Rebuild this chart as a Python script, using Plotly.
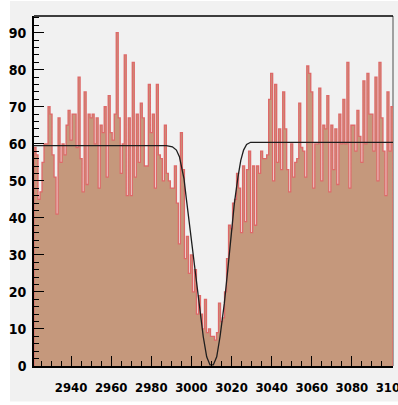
import plotly.graph_objects as go

# Histogram bins: 1-unit bins, centres 2922 ... 3100
bin_start = 2922
counts = [
    59, 57, 45, 47, 55, 60, 60, 70, 68, 57, 51, 41, 67, 55, 60, 57, 65, 69, 61, 68, 68, 59, 78, 56, 47,
    74, 49, 68, 67, 68, 60, 67, 48, 65, 63, 70, 51, 73, 63, 61, 68, 90, 67, 52, 60, 84, 46, 67, 46, 82,
    51, 68, 55, 71, 67, 54, 54, 76, 63, 68, 48, 76, 57, 56, 50, 65, 52, 50, 48, 48, 54, 44, 33, 63, 53,
    29, 35, 25, 30, 20, 26, 14, 19, 14, 10, 18, 9, 10, 8, 8, 7, 9, 17, 12, 13, 20, 29, 38, 37, 44,
    45, 52, 48, 36, 54, 39, 53, 58, 36, 54, 38, 54, 52, 58, 56, 56, 57, 72, 79, 50, 76, 55, 64, 53, 74,
    64, 53, 47, 60, 51, 55, 56, 71, 59, 58, 51, 81, 79, 74, 48, 60, 60, 75, 50, 65, 64, 73, 47, 65, 53,
    64, 49, 68, 60, 72, 60, 82, 48, 65, 65, 58, 69, 62, 55, 77, 60, 79, 68, 68, 58, 78, 50, 82, 67, 58,
    46, 74, 58, 70,
]
bin_centres = [bin_start + i for i in range(len(counts))]

# Fit curve
fit_x = [2921.5, 2987.5, 2990.5, 2992.5, 2994.0, 2995.2, 2996.3, 2997.5, 2999.75, 3001.75,
         3003.75, 3005.9, 3007.6, 3009.25, 3010.9, 3012.6, 3014.25, 3016.4, 3018.1, 3019.75,
         3021.4, 3023.2, 3024.6, 3026.0, 3027.5, 3029.5, 3100.5]
fit_y = [59.5, 59.5, 59.2, 58.3, 56.5, 53.8, 50.5, 45.0, 34.9, 25.9,
         16.9, 7.9, 2.5, 0.3, 0.3, 2.5, 7.9, 16.9, 25.9, 34.9,
         43.9, 51.0, 55.5, 58.3, 59.8, 60.4, 60.4]

x_ticks = [2940, 2960, 2980, 3000, 3020, 3040, 3060, 3080, 3100]
y_ticks = [0, 10, 20, 30, 40, 50, 60, 70, 80, 90]

FILL = "rgb(197,152,124)"
EDGE = "rgb(222,105,105)"
BG = "rgb(241,241,241)"

# step outline from bin edges
edges = [c - 0.5 for c in bin_centres] + [bin_centres[-1] + 0.5]
step_x = [edges[0]] + edges
step_y = [0] + counts + [0]

fig = go.Figure()
fig.add_trace(go.Bar(x=bin_centres, y=counts, width=1.0,
                     marker=dict(color=FILL, line=dict(width=0)), hoverinfo="skip"))
fig.add_trace(go.Scatter(x=step_x, y=step_y, mode="lines", line_shape="hv",
                         line=dict(color=EDGE, width=1.3), hoverinfo="skip"))
fig.add_trace(go.Scatter(x=fit_x, y=fit_y, mode="lines",
                         line=dict(color="rgb(30,30,30)", width=1.3), hoverinfo="skip"))

L, R, T, B = 34, 5, 16, 39
W, H = 398, 405
pw, ph = W - L - R, H - T - B

# grey canvas region (with white rim on left and bottom)
fig.add_shape(type="rect", xref="paper", yref="paper",
              x0=(10 - L) / pw, x1=(W - L) / pw + 0.02,
              y0=-(401.5 - (H - B)) / ph, y1=1 + (T - 1) / ph,
              fillcolor=BG, line=dict(width=0), layer="below")
# frame top and right
fig.add_shape(type="line", xref="paper", yref="paper", x0=0, x1=1, y0=1, y1=1,
              line=dict(color="black", width=1.6))
fig.add_shape(type="line", xref="paper", yref="paper", x0=1, x1=1, y0=0, y1=1,
              line=dict(color="rgb(140,140,140)", width=1.6), layer="below")

tickfont_x = dict(family="Liberation Sans Narrow, DejaVu Sans Condensed, Arial", size=13,
                  color="black", weight="bold")
tickfont_y = dict(family="Liberation Sans Narrow, DejaVu Sans Condensed, Arial", size=14,
                  color="black", weight="bold")

fig.update_layout(
    width=W, height=H,
    margin=dict(l=L, r=R, t=T, b=B, pad=0, autoexpand=False),
    paper_bgcolor="white", plot_bgcolor=BG,
    showlegend=False, bargap=0,
    xaxis=dict(range=[2921.5, 3100.5], tickvals=x_ticks, ticks="inside", ticklen=10,
               tickwidth=1, tickcolor="black", showgrid=False, zeroline=False,
               showline=True, linecolor="black", linewidth=1.6, automargin=False,
               tickfont=tickfont_x, ticklabelstandoff=9, ticklabeloverflow="allow",
               minor=dict(dtick=5, tick0=2920, ticks="inside", ticklen=5,
                          tickcolor="black", tickwidth=1, showgrid=False)),
    yaxis=dict(range=[0, 94.5], tickvals=y_ticks, ticks="inside", ticklen=10,
               tickwidth=1, tickcolor="black", showgrid=False, zeroline=False,
               showline=True, linecolor="black", linewidth=1.6, automargin=False,
               tickfont=tickfont_y, ticklabelstandoff=3, ticklabeloverflow="allow",
               minor=dict(dtick=2, tick0=0, ticks="inside", ticklen=5,
                          tickcolor="black", tickwidth=1, showgrid=False)),
)

fig.write_html("out.html")
